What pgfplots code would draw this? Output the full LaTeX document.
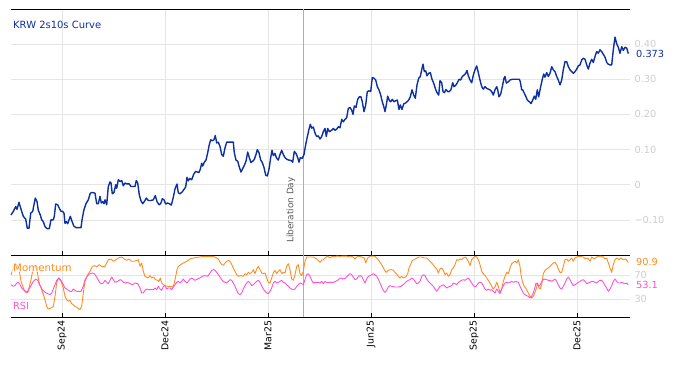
\documentclass[border=0pt]{standalone}
\usepackage{fontspec}
\setmainfont{DejaVu Sans}
\usepackage{pgfplots}
\usepackage{pgfplotstable}
\pgfplotsset{compat=1.18}
\definecolor{curve}{RGB}{12,48,160}
\definecolor{mom}{RGB}{255,140,30}
\definecolor{rsi}{RGB}{255,80,215}
\definecolor{gridc}{RGB}{229,229,229}
\definecolor{tickc}{RGB}{205,205,205}
\definecolor{libc}{RGB}{175,175,175}
\definecolor{libtext}{RGB}{90,90,90}

\pgfplotstableread{
x y
11 -0.086
13.3 -0.076
15.7 -0.062
17 -0.070
19 -0.050
20.7 -0.067
23.3 -0.090
25.7 -0.098
27.3 -0.124
29 -0.124
30.7 -0.081
32.7 -0.076
34.3 -0.052
35.3 -0.038
37 -0.048
38.3 -0.073
40.3 -0.086
41.7 -0.100
43.3 -0.105
45 -0.119
47 -0.125
49.3 -0.125
51 -0.100
53.3 -0.100
54.3 -0.090
55.7 -0.055
57.7 -0.057
59.3 -0.067
61 -0.076
62.7 -0.076
64 -0.081
65 -0.110
66.3 -0.105
67.7 -0.111
69 -0.100
70.3 -0.090
71.7 -0.102
73.7 -0.117
75.7 -0.122
78.3 -0.122
81 -0.122
82.3 -0.095
84 -0.071
86 -0.054
88.3 -0.043
90.3 -0.024
92.3 -0.022
95 -0.024
96.7 -0.054
98.3 -0.054
100 -0.033
101.3 -0.052
102.7 -0.048
104 -0.054
105 -0.043
106.7 -0.057
108.3 -0.005
110 0.008
111 0.005
112.3 -0.026
114 -0.022
115.7 0.000
116.7 -0.010
118.3 0.014
120.3 0.009
121.7 0.012
123.3 -0.003
125 0.005
127 0.002
129 0.003
131 -0.005
133.3 -0.005
135 -0.005
136.3 0.012
137.7 0.005
139.3 -0.029
141 -0.046
142.7 -0.054
144.3 -0.048
146.3 -0.038
148.3 -0.045
151 -0.045
153.3 -0.043
155.3 -0.031
157 -0.048
159 -0.057
160.7 -0.054
162.3 -0.040
164 -0.043
165.7 -0.055
167.3 -0.052
169.3 -0.054
171.3 -0.058
173.3 -0.036
175 -0.012
177 0.002
178.3 -0.023
180 -0.026
182.3 -0.020
184.3 -0.012
185.7 -0.006
187 0.021
188.3 0.011
190 0.018
191.7 0.014
193.7 0.030
195.7 0.038
197.3 0.036
199 0.035
200.3 0.044
201.7 0.061
202.7 0.053
204.3 0.064
206 0.070
207.7 0.091
209.3 0.114
210.7 0.128
212.3 0.125
214 0.128
215.3 0.140
216.7 0.119
218.3 0.121
220 0.109
221.7 0.086
223.3 0.081
225 0.105
226.7 0.121
229 0.121
231.7 0.121
233.3 0.121
234.3 0.091
236 0.070
237.7 0.067
239.3 0.050
241 0.036
242.7 0.046
244.3 0.055
246 0.067
247.7 0.093
249.3 0.077
251 0.063
252.7 0.067
254.3 0.072
256 0.086
257.3 0.100
259 0.091
260.7 0.070
262.3 0.063
264 0.049
265.7 0.027
267.3 0.025
269 0.044
270.7 0.077
272 0.098
273.3 0.083
275 0.089
276.3 0.077
278.3 0.070
280 0.086
281.7 0.098
283.3 0.086
285 0.077
287 0.072
289 0.070
291 0.069
292.7 0.064
294.3 0.095
296 0.089
297.7 0.077
299 0.064
300.3 0.077
302.3 0.075
304 0.086
305.7 0.114
307.3 0.136
309 0.158
310.3 0.172
311.7 0.161
313.3 0.164
315 0.147
316.7 0.137
318.3 0.139
320 0.130
321.7 0.137
323.3 0.151
325 0.160
326.3 0.137
327.7 0.160
329.3 0.151
331.7 0.155
333.3 0.160
335 0.155
336.7 0.158
338.3 0.165
340 0.162
341.7 0.186
343.3 0.179
345 0.186
346.7 0.191
348.3 0.217
350 0.220
351.7 0.212
353 0.200
354.3 0.224
356 0.220
357.7 0.243
359.3 0.250
361 0.250
362.3 0.236
364 0.208
365.7 0.227
367.3 0.265
369 0.267
370.7 0.265
372.3 0.305
374 0.303
375.7 0.298
377.3 0.279
379 0.270
380.7 0.255
382.3 0.236
384 0.220
385 0.208
386.3 0.227
387.7 0.252
389.3 0.240
390.7 0.236
392.3 0.243
394 0.236
395.7 0.239
397.3 0.241
399 0.214
400.3 0.227
402 0.214
403.7 0.230
405.3 0.232
407 0.236
408.7 0.241
410.3 0.250
412 0.270
413.7 0.255
415.3 0.246
417 0.284
418.7 0.303
420.3 0.308
421.7 0.327
423 0.343
424.3 0.322
425.7 0.324
427 0.310
428.7 0.317
430.3 0.319
432 0.300
433.7 0.289
435.3 0.274
437 0.262
438.7 0.255
440 0.296
441.7 0.290
443 0.265
444.3 0.262
446 0.271
447.7 0.265
449.3 0.265
451 0.271
452.7 0.290
454 0.279
455.7 0.283
457.3 0.290
459 0.300
460.7 0.298
462.3 0.308
464 0.312
465.7 0.317
467 0.325
468.3 0.310
470 0.298
471.7 0.290
473.3 0.312
475 0.327
476.7 0.338
478.3 0.319
480 0.298
481.7 0.279
483.3 0.272
485 0.279
486.7 0.274
490 0.270
491.7 0.265
493.3 0.255
495 0.270
496.7 0.279
497.7 0.270
499 0.250
500.7 0.258
502.3 0.279
504 0.303
505 0.308
506.3 0.289
508.3 0.293
510 0.298
512.3 0.300
515 0.300
517.3 0.300
519.3 0.300
520.3 0.293
521.7 0.270
522.7 0.270
524 0.262
525.7 0.252
527.3 0.241
529.3 0.236
531 0.231
532.7 0.241
534.3 0.252
535.7 0.243
537.3 0.270
538.7 0.250
540.3 0.274
542.3 0.300
543.7 0.315
545 0.306
546.7 0.319
548.3 0.308
550 0.317
551.7 0.336
553.3 0.327
555 0.322
556.7 0.308
558.3 0.298
560 0.284
561.7 0.298
563.3 0.327
565 0.350
566.7 0.350
568.3 0.336
570 0.327
571.7 0.322
573.3 0.317
575 0.322
576.7 0.329
578.3 0.338
580 0.341
581.7 0.355
583.3 0.360
585 0.357
586.7 0.341
588.3 0.329
590 0.346
591.7 0.357
593.3 0.348
595 0.365
596.7 0.379
598.3 0.374
600 0.384
601.7 0.379
603.3 0.371
605 0.363
606.7 0.348
608.3 0.343
610 0.341
611.7 0.341
613.3 0.384
615 0.420
616.7 0.401
618.3 0.391
620 0.374
621.7 0.393
623.3 0.382
625 0.391
626.7 0.389
628.3 0.373
}\curvedata

\pgfplotstableread{
x y
11 70
13 80
15 86
17 88
19 80
21 60
23 50
25 42
27 40
29 48
31 62
33 80
35 86
37 78
39 58
41.7 45.5
45 28.9
46.7 17.7
48.3 13.3
51 15
53.3 17.7
55 34.4
56.7 56.6
58.3 65
61 59.4
63.3 48.3
65 34.4
66.7 28.9
68.3 26.1
70 27.8
71.7 22.2
73.3 20.5
75 17.7
77.7 15
80 12.2
81.7 17.7
83.3 40
85 59.4
87.7 70.5
90 76.1
92.3 84.4
95 85.5
96.7 83.3
99 87.2
101.7 84.4
105 84.4
106.7 90
108.3 95.5
111 96.6
113.3 92.8
115 94.4
118.3 98.3
121.7 100
124.3 96.6
126.7 94.4
129 96.6
131.7 92.8
134.3 92.8
136.7 94.4
138.3 95.5
140 84.4
141.7 90
143.3 76.1
145 67.8
147.7 65
150 68.9
151.7 65
153.3 66.6
155.7 62.2
157.7 61.1
159 59.4
160.3 65
161.7 56.6
163.3 53.9
165 52.2
167.7 51.1
170 51.1
172.3 50
174 53.9
175.7 67.8
177 78.9
178.3 84.4
180.7 87.2
183.3 90
186.7 92.8
190 96.6
193.3 98.3
196.7 99.4
200 100
203.3 101.1
206.7 101.1
210 101.1
213.3 101.1
216.7 98.3
218.3 96.6
220 91.1
221.7 87.2
223.3 86.1
225 90
226.7 92.8
229 94.4
231 90
233.3 81.6
235 76.1
236.7 70.5
238.3 67.8
240.7 68.9
243.3 67.8
245 72.2
246.7 70.5
248.3 74.4
250 72.2
251.7 74.4
253.3 78.9
255 72.2
256.7 80
258.3 84.4
260 78.9
261.7 73.3
263.3 72.2
265 73.3
266.7 65
268.3 57.8
270 56.6
271.7 65
273.3 73.3
275 77.8
276.7 72.2
278.3 76.1
280 78.9
281.7 72.2
283.3 74.4
285 73.3
286.7 84.4
288.3 88.9
290 78.9
291.7 63.3
293.3 61.1
295 70.5
296.7 84.4
298.3 87.2
300 72.2
301.7 68.9
303.3 76.1
305 92.8
306.7 100
310 100
313.3 100
316.7 96.6
320 91.1
321.7 94.4
323.3 95.5
325 98.3
327.7 101.5
330 98.3
332.3 101.1
334.3 100
336.7 101.5
340 101.1
343.3 101.5
346.7 101.5
350 100
352.3 101.1
355 96.6
356.7 100
359 101.1
361.7 100
364.3 98.3
365.7 90
367.7 98.3
370 101.1
372.3 101.5
375 101.1
377.7 96.6
380 91.1
382.3 85.5
384.3 78.9
386 74.4
388.3 77.8
391 78.9
393.3 77.8
395.7 73.3
398.3 67.8
400 65
401.7 67.8
403.3 65
405.7 66.6
407.7 72.2
409 81.6
411 88.9
412.3 94.4
414.3 95.5
416.7 98.3
419 100
421.7 100
424.3 98.3
426.7 98.3
429 94.4
431.7 90
434.3 84.4
436.7 80
438.3 73.3
440 80
441.7 81.6
443.3 77.8
445 70.5
446.7 73.3
448.3 67.8
450 70.5
451.7 78.9
453.3 81.6
455 87.2
456.7 95.5
458.3 94.4
460 96.6
461.7 95.5
463.3 98.3
465.7 100
467.7 94.4
469 90
470 85.5
471.7 95.5
473.3 98.3
475 101.1
476.7 100
478.3 95.5
480 87.2
481.7 76.1
483.3 72.2
485 68.9
486.7 65
488.3 61.1
490 56.6
491.7 51.1
493.3 46.6
495 50
496.7 57.8
498.3 51.1
500 41.1
501.7 46.6
503.3 59.4
505 67.8
506.7 74.4
508.3 72.2
510 81.6
511.7 88.9
513.3 91.1
515 92.8
516.7 90
518.3 95.5
520 84.4
521 70.5
522.3 59.4
524.3 51.1
526.7 45.5
528.3 40
530 34.4
531.7 31.6
533.3 34.4
535 41.1
536.7 50
537.7 56.6
539 48.3
540.3 46.6
541.7 53.9
543.3 72.2
545 77.8
546.7 80
548.3 81.6
550 84.4
551.7 87.2
553.3 90
555 91.1
556.7 87.2
558.3 80
560 74.4
561.7 74.4
563.3 84.4
565 95.5
566.7 96.6
568.3 92.8
570 95.5
571.7 98.3
573.3 92.8
575 98.3
576.7 100
580 101.1
583.3 100
585.7 96.6
587.7 98.3
590 92.8
591.7 100
594.3 96.6
596.7 100
600 101.5
603.3 100
605 96.6
606.7 98.3
608.3 90
610 81.6
611.7 74.4
613.3 87.2
615 95.5
616.7 98.3
619 95.5
621 98.3
623.3 95.5
625.7 96.6
628.3 90.9
}\momdata

\pgfplotstableread{
x y
11 53.9
13.3 51.1
15 52.2
16.7 56.6
18.3 57.8
20 53.9
21.7 48.3
23.3 45.5
25.7 42.8
27.7 41.1
29 46.6
31 52.2
33.3 59.4
35.7 63.3
37.7 61.1
40 52.2
42.3 45.5
45 41.1
47.7 38.9
50 37.2
51.7 40
53.3 46.6
55 53.9
56.7 61.1
59 65
61 61.1
63.3 53.9
65 48.3
67.7 45.5
70 42.8
71.7 42.8
73.3 46.6
75 44.4
76.7 42.8
79 42.8
81 42.8
83.3 51.1
85 62.2
87.7 68.9
90 72.2
92.3 73.3
94.3 72.2
95.7 68.9
97.7 63.3
100 56.6
101.7 55.5
103.3 56.6
105 61.1
106.7 57.8
108.3 55.5
110 61.1
111.7 66.6
113.3 62.2
115 57.8
117.7 59.4
120 62.2
121.7 61.1
123.3 57.8
125.7 56.6
127.7 57.8
130 55.5
132.3 53.9
135 56.6
137.7 55.5
140 48.3
141.7 40
143.3 40
145 44.4
146.7 46.6
148.3 45.5
151 45.5
153.3 45.5
155 48.3
156.7 45.5
158.3 51.1
160 46.6
161.7 44.4
163.3 51.1
165 52.2
166.7 46.6
168.3 48.3
170 48.3
171.7 45.5
173.3 50
175 53.9
176.7 57.8
178.3 59.4
180 56.6
181.7 59.4
183.3 63.3
185 59.4
186.7 56.6
188.3 59.4
190 63.3
191.7 65
193.3 63.3
195 61.1
197.7 63.3
200 65
202.3 67.8
205 68.9
207.7 67.8
210 73.3
211.7 77.8
213.3 78.9
215 77.8
216.7 74.4
218.3 70.5
220 66.6
221.7 62.2
223.3 59.4
225 57.8
226.7 56.6
228.3 59.4
230 62.2
231.7 61.1
233.3 56.6
235 51.1
236.7 44.4
238.3 38.9
240 37.2
241.7 40
243.3 46.6
245 52.2
246.7 56.6
248.3 59.4
250 56.6
251.7 52.2
253.3 53.9
255 56.6
256.7 59.4
258.3 61.1
260 57.8
261.7 52.2
263.3 46.6
265 42.8
266.7 40
268.3 38.9
270 42.8
271.7 48.3
273.3 56.6
275 59.4
276.7 56.6
278.3 57.8
280 59.4
281.7 61.1
283.3 57.8
285 56.6
286.7 53.9
288.3 51.1
290 48.3
291.7 46.6
293.3 45.5
295 46.6
296.7 51.1
298.3 53.9
300 56.6
301.7 55.5
303.3 53.9
305 62.2
306.7 70.5
308.3 72.2
310 67.8
311.7 61.1
313.3 56.6
315 57.8
316.7 57.8
318.3 57.8
320 56.6
321.7 59.4
323.3 55.5
325 59.4
326.7 57.8
328.3 57.8
331 57.8
333.3 57.8
335.7 59.4
337.7 61.1
339 63.3
341 65
343.3 63.3
345.7 65
347.7 68.9
350 72.2
351.7 70.5
353.3 66.6
355 62.2
356.7 63.3
358.3 67.8
360 68.9
361.7 67.8
363.3 62.2
365 56.6
366.7 63.3
368.3 67.8
370 68.9
371.7 70.5
373.3 72.2
375 70.5
376.7 67.8
378.3 63.3
380 56.6
381.7 50
383.3 44.4
385 41.1
386.7 44.4
388.3 50
390 52.2
391.7 51.1
395 50
398.3 50
401 51.1
403.3 53.9
405 56.6
406.7 59.4
408.3 61.1
410 62.2
411.7 65
413.3 63.3
415 59.4
416.7 55.5
418.3 56.6
420 59.4
421.7 67.8
423.3 70.5
425 68.9
426.7 63.3
428.3 59.4
430 56.6
431.7 53.9
433.3 51.1
435 46.6
436.7 42.8
438.3 46.6
440 51.1
441.7 52.2
443.3 53.9
445 51.1
446.7 48.3
448.3 50
450 51.1
451.7 52.2
453.3 56.6
455 55.5
456.7 53.9
458.3 57.8
460 59.4
461.7 61.1
463.3 62.2
465 61.1
466.7 63.3
468.3 65
470 61.1
471.7 56.6
473.3 52.2
475 50
476.7 52.2
478.3 56.6
480 57.8
481.7 56.6
483.3 52.2
485 46.6
486.7 44.4
488.3 46.6
490 44.4
491.7 45.5
493.3 42.8
495 40
496.7 46.6
498.3 42.8
500 38.9
501.7 46.6
503.3 52.2
505 56.6
506.7 57.8
508.3 56.6
510 57.8
511.7 59.4
513.3 57.8
515 58.9
516.7 58.9
518.3 57.8
520 51.1
521.7 45.5
523.3 40
525 37.2
526.7 35.5
528.3 34.4
530 31.6
531.7 34.4
533.3 40
535 50
536 56.6
537.7 53.9
539 51.1
540.3 53.9
541.7 59.4
543.3 62.2
545 63.3
546.7 62.2
548.3 61.1
550 61.1
551.7 59.4
553.3 61.1
555 63.3
556.7 59.4
558.3 53.9
560 48.3
561.7 46.6
563.3 51.1
565 56.6
566.7 63.3
568.3 66.6
570 62.2
571.7 56.6
573.3 52.2
575 53.9
576.7 55.5
578.3 57.8
580 59.4
581.7 61.1
583.3 62.2
585 59.4
586.7 55.5
588.3 56.6
590 57.8
591.7 59.4
593.3 59.4
595 57.8
596.7 56.6
598.3 59.4
600 61.1
601.7 61.1
603.3 57.8
605 52.2
606.7 48.3
608.3 42.8
610 46.6
611.7 52.2
613.3 59.4
615 63.3
616.7 59.4
618.3 56.6
620 56.6
621.7 57.8
623.3 56.6
625 55.5
626.7 56.6
628.3 53.1
}\rsidata

\begin{document}
\begin{tikzpicture}[font=\fontsize{9.8}{11.5}\selectfont]
\useasboundingbox (0,0) rectangle (674bp,366bp);
\pgfplotsset{
  panel/.style={
    scale only axis, width=619bp,
    xmin=11, xmax=630,
    separate axis lines,
    y axis line style={draw=none},
    x axis line style={black, line width=0.8pt},
    xtick={62,165,268,371,474,577},
    xtick pos=lower, tick align=inside,
    major tick length=4bp,
    xtick style={black, line width=0.8pt},
    ytick style={draw=none},
    yticklabel pos=right,
    yticklabel style={tickc, anchor=west, xshift=1bp},
    grid=major,
    major grid style={gridc, line width=0.6pt},
    clip=false,
  }
}
% top panel
\begin{axis}[panel,
  at={(11bp,111bp)}, anchor=south west, height=246bp,
  ymin=-0.2, ymax=0.5,
  xticklabels={},
  ytick={-0.1,0,0.1,0.2,0.3,0.4},
  yticklabels={−0.10,0,0.10,0.20,0.30,0.40},
]
\addplot[libc, line width=0.8pt] coordinates {(303,-0.2) (303,0.5)};
\addplot[curve, line width=1.4pt, line join=round] table[x=x,y=y] {\curvedata};
\node[anchor=west, text=curve, inner sep=0pt, font=\fontsize{10}{12}\selectfont] at (axis cs:13,0.455) {KRW 2s10s Curve};
\node[anchor=west, text=curve, inner sep=0pt] at (axis cs:636,0.373) {0.373};
\node[rotate=90, anchor=west, text=libtext, inner sep=0pt, font=\fontsize{9}{10}\selectfont] at (axis cs:291,-0.166) {Liberation Day};
\end{axis}
% bottom panel
\begin{axis}[panel,
  at={(11bp,49bp)}, anchor=south west, height=62bp,
  ymin=0, ymax=103.3,
  xticklabels={Sep24,Dec24,Mar25,Jun25,Sep25,Dec25},
  xticklabel style={rotate=90, anchor=east, black, font=\fontsize{9.4}{11}\selectfont},
  ytick={30,70},
  yticklabels={30,70},
]
\addplot[libc, line width=0.8pt] coordinates {(303,0) (303,103.3)};
\addplot[mom, line width=0.9pt, line join=round] table[x=x,y=y] {\momdata};
\addplot[rsi, line width=0.9pt, line join=round] table[x=x,y=y] {\rsidata};
\node[anchor=west, text=mom, fill=white, fill opacity=0.7, text opacity=1, inner sep=1bp, font=\fontsize{10.3}{12}\selectfont] at (axis cs:12,82.2) {Momentum};
\node[anchor=west, text=rsi, inner sep=0pt, font=\fontsize{9.8}{11}\selectfont] at (axis cs:13,18.8) {RSI};
\node[anchor=west, text=mom, inner sep=0pt] at (axis cs:636,90.9) {90.9};
\node[anchor=west, text=rsi, inner sep=0pt] at (axis cs:636,53.1) {53.1};
\end{axis}
\end{tikzpicture}
\end{document}
